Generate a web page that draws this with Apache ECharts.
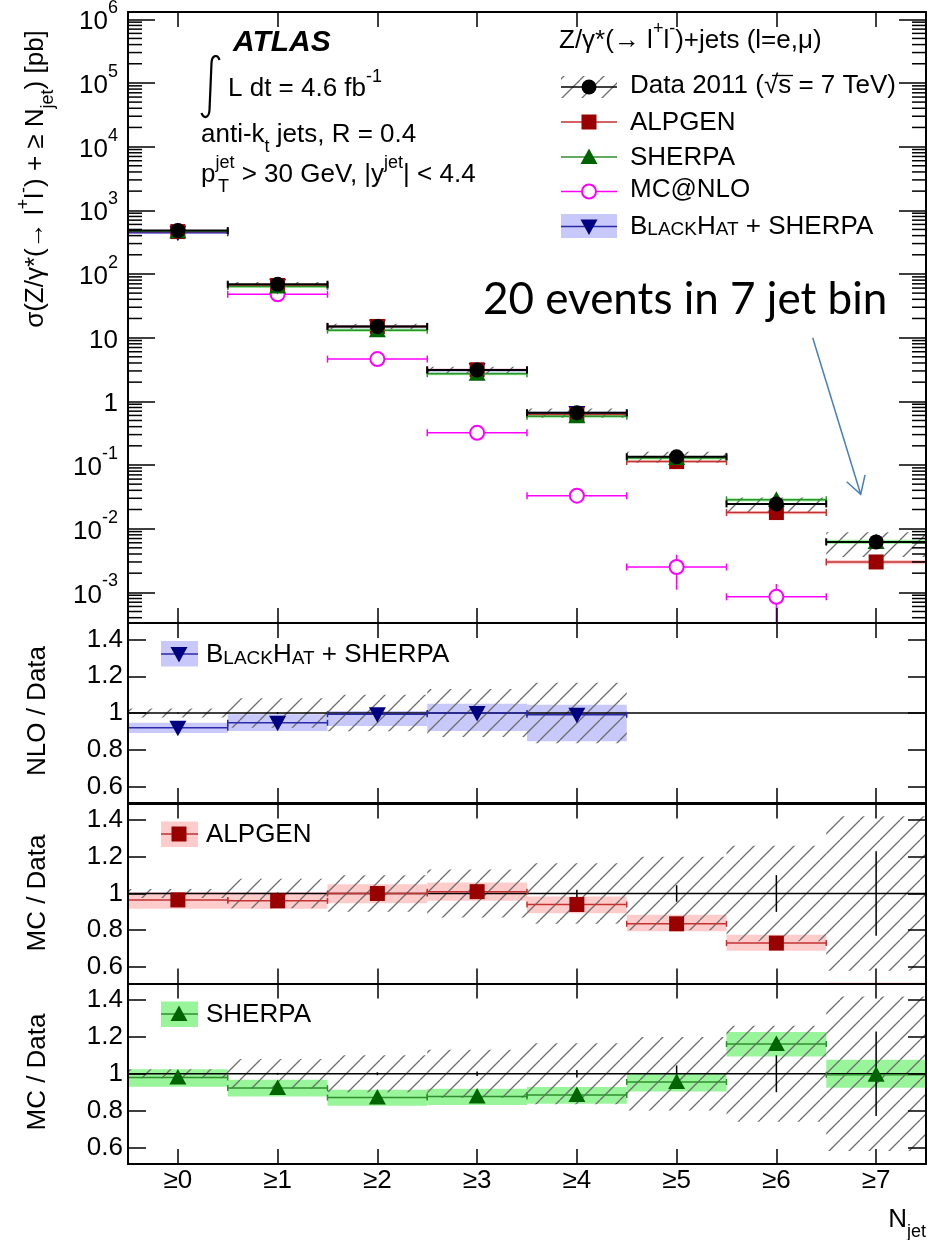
<!DOCTYPE html>
<html>
<head>
<meta charset="utf-8">
<script src="https://cdn.jsdelivr.net/npm/echarts@6/dist/echarts.min.js"></script>
<style>
  html, body { margin: 0; padding: 0; background: #fff; }
  #chart { width: 929px; height: 1240px; }
</style>
</head>
<body>
<div id="chart"></div>
<script>
// ---- Jet multiplicity bins ----
const categories = ['≥0', '≥1', '≥2', '≥3', '≥4', '≥5', '≥6', '≥7'];

// ---- Cross sections [pb] ----
const dataXsec     = [480, 69, 15, 3.1, 0.66, 0.135, 0.0245, 0.0062];
const dataStatRel  = [0.003, 0.005, 0.008, 0.012, 0.02, 0.045, 0.10, 0.23];
const dataSystRel  = [0.025, 0.08, 0.10, 0.13, 0.165, 0.20, 0.26, 0.42];
const alpgenXsec   = [463, 66, 15, 3.13, 0.62, 0.113, 0.0179, 0.0030];
const sherpaXsec   = [470, 63.6, 13.1, 2.72, 0.583, 0.129, 0.0284, 0.0062];
const blackhatXsec = [442, 65.3, 14.9, 3.1, 0.653];
const mcatnloXsec  = [470, 48, 4.6, 0.32, 0.033, 0.0025, 0.00085];
const mcatnloErrLo = [470, 48, 4.6, 0.32, 0.031, 0.0011, 0.0001];
const mcatnloErrHi = [470, 48, 4.6, 0.32, 0.035, 0.0039, 0.00135];

// ---- Prediction / data ratios and their uncertainty bands ----
const blackhatRatio  = [0.92, 0.947, 0.993, 1.0, 0.99];
const blackhatBandLo = [0.891, 0.902, 0.929, 0.902, 0.846];
const blackhatBandHi = [0.947, 0.993, 1.011, 1.051, 1.045];
const alpgenRatio    = [0.965, 0.96, 1.0, 1.01, 0.94, 0.835, 0.73, 0.48];
const alpgenBandLo   = [0.917, 0.917, 0.947, 0.96, 0.893, 0.794, 0.688, 0.44];
const alpgenBandHi   = [1.007, 1.007, 1.05, 1.06, 0.984, 0.884, 0.775, 0.515];
const sherpaRatio    = [0.98, 0.922, 0.871, 0.877, 0.884, 0.955, 1.161, 0.995];
const sherpaBandLo   = [0.93, 0.877, 0.826, 0.83, 0.837, 0.904, 1.094, 0.924];
const sherpaBandHi   = [1.025, 0.967, 0.913, 0.918, 0.928, 1.0, 1.226, 1.076];

// ---- Axis ranges ----
const LOG_MIN = 3.3e-4, LOG_MAX = 1.3e6;
const RATIO_MIN = 0.51, RATIO_MAX = 1.49;

const FONT = '"Liberation Sans", Arial, Helvetica, sans-serif';
const COL = {
  data: '#000000',
  alpLine: '#c23232', alpMark: '#990000', alpBand: '#ffcccc',
  shLine: '#2f8f2f', shMark: '#006400', shBand: '#99f599',
  nlo: '#ff00ff',
  bhLine: '#2a2aa8', bhMark: '#000080', bhBand: '#c8c8fa'
};

// Diagonal hatch pattern for the data uncertainty
const hatchCanvas = (function () {
  const s = 20;
  const c = document.createElement('canvas');
  c.width = s; c.height = s;
  const g = c.getContext('2d');
  g.strokeStyle = '#6f6f6f';
  g.lineWidth = 1.35;
  g.beginPath();
  [-s, 0, s].forEach(function (o) { g.moveTo(o, s); g.lineTo(o + s, 0); });
  g.stroke();
  return c;
})();
const HATCH = { image: hatchCanvas, repeat: 'repeat' };

function marker(kind, x, y, color) {
  if (kind === 'circle') return { type: 'circle', shape: { cx: x, cy: y, r: 7.5 }, style: { fill: color } };
  if (kind === 'open') return { type: 'circle', shape: { cx: x, cy: y, r: 7 }, style: { fill: '#fff', stroke: color, lineWidth: 2 } };
  if (kind === 'square') return { type: 'rect', shape: { x: x - 7.5, y: y - 7.5, width: 15, height: 15 }, style: { fill: color } };
  if (kind === 'up') return { type: 'polygon', shape: { points: [[x, y - 8.5], [x - 8.5, y + 7], [x + 8.5, y + 7]] }, style: { fill: color } };
  return { type: 'polygon', shape: { points: [[x, y + 8.5], [x - 8.5, y - 7], [x + 8.5, y - 7]] }, style: { fill: color } };
}

// Filled band over each bin, between lo and hi
function bandSeries(gi, lo, hi, fill, z) {
  return {
    type: 'custom', xAxisIndex: 2 * gi, yAxisIndex: 2 * gi, z: z, silent: true,
    data: lo.map(function (v, i) { return [i, v, hi[i]]; }),
    renderItem: function (params, api) {
      const i = api.value(0), w = api.size([1, 0])[0];
      const a = api.coord([i, api.value(1)]), b = api.coord([i, api.value(2)]);
      const r = echarts.graphic.clipRectByRect(
        { x: a[0] - w / 2, y: b[1], width: w, height: a[1] - b[1] }, params.coordSys);
      if (!r) return null;
      return { type: 'rect', shape: r, style: { fill: fill } };
    }
  };
}

// Bin-wide horizontal line with optional caps, vertical error and marker
function stepSeries(gi, vals, o) {
  return {
    type: 'custom', xAxisIndex: 2 * gi, yAxisIndex: 2 * gi, z: o.z || 6, silent: true,
    data: vals.map(function (v, i) { return [i, v, o.lo ? o.lo[i] : v, o.hi ? o.hi[i] : v]; }),
    renderItem: function (params, api) {
      const cs = params.coordSys;
      const i = api.value(0), w = api.size([1, 0])[0];
      const p = api.coord([i, api.value(1)]);
      const yl = api.coord([i, api.value(2)])[1], yh = api.coord([i, api.value(3)])[1];
      const inY = function (y) { return y >= cs.y - 0.5 && y <= cs.y + cs.height + 0.5; };
      const clampY = function (y) { return Math.max(cs.y, Math.min(cs.y + cs.height, y)); };
      const st = { stroke: o.color, lineWidth: o.width || 1.5 };
      const ch = [];
      if (o.hline !== false && inY(p[1])) {
        ch.push({ type: 'line', shape: { x1: p[0] - w / 2, y1: p[1], x2: p[0] + w / 2, y2: p[1] }, style: st });
        if (o.caps) {
          [-1, 1].forEach(function (s) {
            const xe = p[0] + s * w / 2;
            ch.push({ type: 'line', shape: { x1: xe, y1: p[1] - o.caps, x2: xe, y2: p[1] + o.caps }, style: st });
          });
        }
      }
      if (Math.abs(yl - yh) > 0.5) {
        ch.push({ type: 'line', shape: { x1: p[0], y1: clampY(yh), x2: p[0], y2: clampY(yl) },
          style: { stroke: o.errColor || o.color, lineWidth: o.errWidth || 1.5 } });
      }
      if (o.marker && inY(p[1])) ch.push(marker(o.marker, p[0], p[1], o.mcolor));
      return { type: 'group', children: ch };
    }
  };
}

function unitySeries(gi) {
  return {
    type: 'custom', xAxisIndex: 2 * gi, yAxisIndex: 2 * gi, z: 4, silent: true,
    data: [[0, 1]],
    renderItem: function (params, api) {
      const cs = params.coordSys, y = api.coord([0, 1])[1];
      return { type: 'line', shape: { x1: cs.x, y1: y, x2: cs.x + cs.width, y2: y }, style: { stroke: '#000', lineWidth: 1.5 } };
    }
  };
}

// Minor ticks of the logarithmic axis (2..9 x 10^k), on both sides
const minorTickValues = [];
for (let k = -4; k <= 6; k++) {
  for (let m = 2; m <= 9; m++) {
    const v = m * Math.pow(10, k);
    if (v > LOG_MIN && v < LOG_MAX) minorTickValues.push(v);
  }
}
const minorTickSeries = {
  type: 'custom', xAxisIndex: 0, yAxisIndex: 0, z: 11, silent: true,
  data: minorTickValues.map(function (v) { return [0, v]; }),
  renderItem: function (params, api) {
    const cs = params.coordSys, y = api.coord([0, api.value(1)])[1];
    const st = { stroke: '#000', lineWidth: 1.5 };
    return { type: 'group', children: [
      { type: 'line', shape: { x1: cs.x, y1: y, x2: cs.x + 14, y2: y }, style: st },
      { type: 'line', shape: { x1: cs.x + cs.width - 14, y1: y, x2: cs.x + cs.width, y2: y }, style: st }
    ] };
  }
};

// ---- Grids ----
const grids = [
  { left: 128, right: 3, top: 12, height: 611 },
  { left: 128, right: 3, top: 623, height: 180 },
  { left: 128, right: 3, top: 803.5, height: 180 },
  { left: 128, right: 3, top: 983.5, height: 180.5 }
].map(function (g) { return Object.assign({ show: false, containLabel: false, outerBoundsMode: 'none' }, g); });

const axisLineStyle = { show: true, onZero: false, lineStyle: { color: '#000', width: 2 } };

function xAx(gi, top, labels) {
  return {
    type: 'category', gridIndex: gi, data: categories, position: top ? 'top' : 'bottom', boundaryGap: true, z: 10,
    axisLine: axisLineStyle,
    axisTick: { show: true, inside: true, alignWithLabel: true, interval: 0, length: 15, lineStyle: { color: '#000', width: 1.5 } },
    axisLabel: { show: !!labels, interval: 0, margin: 4, color: '#000', fontFamily: FONT, fontSize: 26 },
    splitLine: { show: false }
  };
}

function logLabel(v) {
  const e = Math.round(Math.log10(v));
  if (e === 0) return '{b|1}';
  if (e === 1) return '{b|10}';
  return '{b|10}{s|' + e + '}';
}

function yLog(right) {
  return {
    type: 'log', gridIndex: 0, logBase: 10, min: LOG_MIN, max: LOG_MAX, splitNumber: 10,
    position: right ? 'right' : 'left', z: 10,
    axisLine: axisLineStyle,
    axisTick: { show: true, inside: true, length: 27, lineStyle: { color: '#000', width: 1.5 } },
    axisLabel: right ? { show: false } : {
      show: true, margin: 10, showMinLabel: false, showMaxLabel: false, formatter: logLabel,
      rich: {
        b: { fontFamily: FONT, fontSize: 26, lineHeight: 40, color: '#000', padding: [6, 0, 0, 0] },
        s: { fontFamily: FONT, fontSize: 18, lineHeight: 18, verticalAlign: 'top', color: '#000' }
      }
    },
    splitLine: { show: false }, minorTick: { show: false }
  };
}

function yRatio(gi, right) {
  return {
    type: 'value', gridIndex: gi, min: RATIO_MIN, max: RATIO_MAX, splitNumber: 5,
    position: right ? 'right' : 'left', z: 10,
    axisLine: axisLineStyle,
    axisTick: { show: true, inside: true, length: 18, lineStyle: { color: '#000', width: 1.5 } },
    axisLabel: right ? { show: false } : {
      show: true, margin: 5, showMinLabel: false, showMaxLabel: false, color: '#000', fontFamily: FONT, fontSize: 26,
      formatter: function (v) { return Math.abs(v - 1) < 1e-6 ? '1' : v.toFixed(1); }
    },
    splitLine: { show: false }
  };
}

const xAxes = [xAx(0, false), xAx(0, true), xAx(1, false), xAx(1, true), xAx(2, false), xAx(2, true), xAx(3, false, true), xAx(3, true)];
const yAxes = [yLog(false), yLog(true), yRatio(1, false), yRatio(1, true), yRatio(2, false), yRatio(2, true), yRatio(3, false), yRatio(3, true)];

// ---- Series ----
const dataSystLo = dataXsec.map(function (v, i) { return v * (1 - dataSystRel[i]); });
const dataSystHi = dataXsec.map(function (v, i) { return v * (1 + dataSystRel[i]); });
const dataStatLo = dataXsec.map(function (v, i) { return v * (1 - dataStatRel[i]); });
const dataStatHi = dataXsec.map(function (v, i) { return v * (1 + dataStatRel[i]); });
const ones = categories.map(function () { return 1; });
const ratioSystLo = dataSystRel.map(function (r) { return 1 - r; });
const ratioSystHi = dataSystRel.map(function (r) { return 1 + r; });
const ratioStatLo = dataStatRel.map(function (r) { return 1 - r; });
const ratioStatHi = dataStatRel.map(function (r) { return 1 + r; });
// the NLO comparison covers only the bins with a BlackHat prediction
const nNLO = blackhatRatio.length;

function scaled(xsec, ratio, band) {
  return xsec.map(function (v, i) { return v * band[i] / ratio[i]; });
}

const series = [
  minorTickSeries,
  // main panel
  bandSeries(0, scaled(blackhatXsec, blackhatRatio, blackhatBandLo), scaled(blackhatXsec, blackhatRatio, blackhatBandHi), COL.bhBand, 2),
  bandSeries(0, scaled(alpgenXsec, alpgenRatio, alpgenBandLo), scaled(alpgenXsec, alpgenRatio, alpgenBandHi), COL.alpBand, 2),
  bandSeries(0, scaled(sherpaXsec, sherpaRatio, sherpaBandLo), scaled(sherpaXsec, sherpaRatio, sherpaBandHi), COL.shBand, 2),
  bandSeries(0, dataSystLo, dataSystHi, HATCH, 3),
  stepSeries(0, mcatnloXsec, { color: COL.nlo, lo: mcatnloErrLo, hi: mcatnloErrHi, caps: 3.5, marker: 'open', mcolor: COL.nlo, z: 5 }),
  stepSeries(0, blackhatXsec, { color: COL.bhLine, caps: 3.5, marker: 'down', mcolor: COL.bhMark, z: 6 }),
  stepSeries(0, alpgenXsec, { color: COL.alpLine, caps: 3.5, marker: 'square', mcolor: COL.alpMark, z: 6 }),
  stepSeries(0, sherpaXsec, { color: COL.shLine, caps: 3.5, marker: 'up', mcolor: COL.shMark, z: 6 }),
  stepSeries(0, dataXsec, { color: COL.data, width: 2, lo: dataStatLo, hi: dataStatHi, caps: 3.5, marker: 'circle', mcolor: COL.data, z: 7 }),

  // NLO / data
  bandSeries(1, blackhatBandLo, blackhatBandHi, COL.bhBand, 2),
  bandSeries(1, ratioSystLo.slice(0, nNLO), ratioSystHi.slice(0, nNLO), HATCH, 3),
  unitySeries(1),
  stepSeries(1, ones.slice(0, nNLO), { color: '#000', hline: false, lo: ratioStatLo, hi: ratioStatHi, z: 5 }),
  stepSeries(1, blackhatRatio, { color: COL.bhLine, caps: 3, marker: 'down', mcolor: COL.bhMark, z: 6 }),

  // ALPGEN / data
  bandSeries(2, alpgenBandLo, alpgenBandHi, COL.alpBand, 2),
  bandSeries(2, ratioSystLo, ratioSystHi, HATCH, 3),
  unitySeries(2),
  stepSeries(2, ones, { color: '#000', hline: false, lo: ratioStatLo, hi: ratioStatHi, z: 5 }),
  stepSeries(2, alpgenRatio, { color: COL.alpLine, caps: 3, marker: 'square', mcolor: COL.alpMark, z: 6 }),

  // SHERPA / data
  bandSeries(3, sherpaBandLo, sherpaBandHi, COL.shBand, 2),
  bandSeries(3, ratioSystLo, ratioSystHi, HATCH, 3),
  unitySeries(3),
  stepSeries(3, ones, { color: '#000', hline: false, lo: ratioStatLo, hi: ratioStatHi, z: 5 }),
  stepSeries(3, sherpaRatio, { color: COL.shLine, caps: 3, marker: 'up', mcolor: COL.shMark, z: 6 })
];

// ---- Text and legend elements ----
const RICH = {
  n: { fontFamily: FONT, fontSize: 26, lineHeight: 42, fill: '#000' },
  sup: { fontFamily: FONT, fontSize: 18, lineHeight: 18, verticalAlign: 'top', fill: '#000' },
  sub: { fontFamily: FONT, fontSize: 18, lineHeight: 18, verticalAlign: 'bottom', fill: '#000' },
  big: { fontFamily: FONT, fontSize: 26, lineHeight: 26, fill: '#000' },
  sm: { fontFamily: FONT, fontSize: 19, lineHeight: 22, verticalAlign: 'bottom', fill: '#000' }
};

function txt(x, y, text, extra) {
  return Object.assign({
    type: 'text', x: x, y: y, z: 100, silent: true,
    style: Object.assign({
      text: text, fill: '#000', font: '26px ' + FONT, rich: RICH,
      align: 'left', verticalAlign: 'middle', textAlign: 'left', textVerticalAlign: 'middle'
    }, (extra && extra.style) || {})
  }, extra && extra.el ? extra.el : {});
}
function hline(x1, x2, y, color, w) {
  return { type: 'line', z: 100, silent: true, shape: { x1: x1, y1: y, x2: x2, y2: y }, style: { stroke: color, lineWidth: w || 1.5 } };
}
function rect(x, y, w, h, fill) {
  return { type: 'rect', z: 99, silent: true, shape: { x: x, y: y, width: w, height: h }, style: { fill: fill } };
}
function mk(kind, x, y, color) {
  return Object.assign(marker(kind, x, y, color), { z: 101, silent: true });
}
function curve(x1, y1, c1x, c1y, c2x, c2y, x2, y2) {
  return { type: 'bezierCurve', z: 100, silent: true,
    shape: { x1: x1, y1: y1, cpx1: c1x, cpy1: c1y, cpx2: c2x, cpy2: c2y, x2: x2, y2: y2 },
    style: { stroke: '#000', lineWidth: 2.2, fill: null } };
}

const BH_LABEL = '{big|B}{sm|LACK}{big|H}{sm|AT}{big| + SHERPA}';

const graphics = [
  // experiment label block
  txt(233, 43, 'ATLAS', { style: { font: 'bold italic 30px ' + FONT } }),
  curve(219.5, 60, 218, 54.5, 212, 54, 211.5, 63),
  { type: 'line', z: 100, silent: true, shape: { x1: 211.5, y1: 63, x2: 209.5, y2: 110 }, style: { stroke: '#000', lineWidth: 2.2 } },
  curve(209.5, 110, 209, 118.5, 203.5, 119, 201.5, 113),
  txt(228, 89, '{n|L dt = 4.6 fb}{sup|-1}'),
  txt(201, 135, '{n|anti-k}{sub|t}{n| jets, R = 0.4}'),
  txt(201, 175, '{n|p}{sup|jet}{n| > 30 GeV, |y}{sup|jet}{n|| < 4.4}'),
  txt(218, 187, 'T', { style: { font: '18px ' + FONT } }),

  // legend
  txt(559, 41, '{n|Z/γ*(→ l}{sup|+}{n|l}{sup|-}{n|)+jets (l=e,μ)}'),
  rect(561, 76, 56, 22, HATCH),
  hline(561, 617, 87, '#000', 1.5), mk('circle', 589, 87, '#000'),
  txt(630, 86, 'Data 2011 (√s = 7 TeV)'),
  hline(772, 793, 75.5, '#000', 1.3),
  hline(561, 617, 122, COL.alpLine), mk('square', 589, 122, COL.alpMark),
  txt(630, 122.5, 'ALPGEN'),
  hline(561, 617, 157, COL.shLine), mk('up', 589, 157, COL.shMark),
  txt(630, 158, 'SHERPA'),
  hline(561, 617, 191.5, COL.nlo), mk('open', 589, 191.5, COL.nlo),
  txt(630, 189.5, 'MC@NLO'),
  rect(561, 214, 56, 24, COL.bhBand),
  hline(561, 617, 226.5, COL.bhLine), mk('down', 589, 226.5, COL.bhMark),
  txt(630, 226.5, BH_LABEL),

  // annotation for the highest multiplicity bin
  txt(483, 300, '20 events in 7 jet bin', { style: { font: '44px Lato, "Open Sans", sans-serif' } }),
  { type: 'polyline', z: 100, silent: true, shape: { points: [[812.7, 337.7], [860.7, 494.3]] }, style: { stroke: '#4a7ebb', lineWidth: 1.5, fill: null } },
  { type: 'polyline', z: 100, silent: true, shape: { points: [[846.7, 481.7], [860.7, 494.3], [865, 475]] }, style: { stroke: '#4a7ebb', lineWidth: 1.5, fill: null } },

  // ratio panel legends
  rect(161, 641, 37, 25.5, COL.bhBand), hline(161, 198, 654, COL.bhLine), mk('down', 179, 654, COL.bhMark),
  txt(206, 655, BH_LABEL),
  rect(161, 821.5, 37, 25.5, COL.alpBand), hline(161, 198, 834, COL.alpLine), mk('square', 179, 834, COL.alpMark),
  txt(206, 835, 'ALPGEN'),
  rect(161, 1001.5, 37, 25.5, COL.shBand), hline(161, 198, 1014, COL.shLine), mk('up', 179, 1014, COL.shMark),
  txt(206, 1015, 'SHERPA'),

  // axis titles
  txt(36, 179, '{n|σ(Z/γ*(→ l}{sup|+}{n|l}{sup|-}{n|) + ≥ N}{sub|jet}{n|) [pb]}',
    { style: { align: 'center', textAlign: 'center' }, el: { rotation: Math.PI / 2 } }),
  txt(38, 711, 'NLO / Data', { style: { align: 'center', textAlign: 'center' }, el: { rotation: Math.PI / 2 } }),
  txt(38, 893, 'MC / Data', { style: { align: 'center', textAlign: 'center' }, el: { rotation: Math.PI / 2 } }),
  txt(38, 1072, 'MC / Data', { style: { align: 'center', textAlign: 'center' }, el: { rotation: Math.PI / 2 } }),
  txt(926, 1220, '{n|N}{sub|jet}', { style: { align: 'right', textAlign: 'right' } })
];

const chart = echarts.init(document.getElementById('chart'), null, { renderer: 'canvas' });
chart.setOption({
  animation: false,
  backgroundColor: '#fff',
  grid: grids,
  xAxis: xAxes,
  yAxis: yAxes,
  series: series,
  graphic: { elements: graphics }
});
</script>
</body>
</html>
